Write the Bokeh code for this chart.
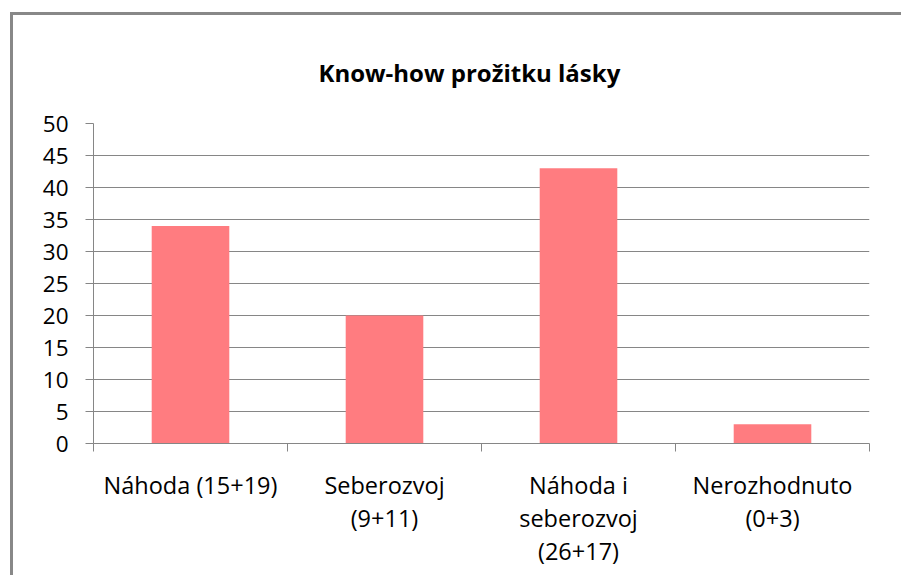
from bokeh.plotting import figure
from bokeh.models import FixedTicker, Range1d
from bokeh.layouts import column
from bokeh.embed import file_html
from bokeh.resources import INLINE

title_text = "Know-how prožitku lásky"
categories = ["Náhoda (15+19)", "Seberozvoj\n(9+11)", "Náhoda i\nseberozvoj\n(26+17)", "Nerozhodnuto\n(0+3)"]
values = [34, 20, 43, 3]
y_ticks = [0, 5, 10, 15, 20, 25, 30, 35, 40, 45, 50]

BAR = "#FF7C80"
GRID = "#868686"
FONT = "Open Sans"

W, H = 888, 560
n = len(categories)
xs = [i + 0.5 for i in range(n)]

p = figure(width=W, height=H, output_backend="svg", toolbar_location=None,
           x_range=Range1d(0, n), y_range=Range1d(0, 50),
           min_border_left=80, min_border_right=32, min_border_top=108, min_border_bottom=132,
           background_fill_color="white", border_fill_color="white")

p.vbar(x=xs, top=values, width=0.4, fill_color=BAR, line_color=None)

p.title.text = title_text
p.title.text_font = FONT
p.title.text_font_size = "24px"
p.title.text_font_style = "bold"
p.title.text_color = "black"
p.title.align = "left"
p.title.offset = 225
p.title.standoff = 69

p.outline_line_color = None
p.xgrid.grid_line_color = None
p.ygrid.grid_line_color = GRID
p.ygrid.grid_line_width = 1
p.ygrid.ticker = FixedTicker(ticks=y_ticks)

ya = p.yaxis[0]
ya.ticker = FixedTicker(ticks=y_ticks)
ya.axis_line_color = GRID
ya.major_tick_line_color = GRID
ya.major_tick_out = 8
ya.major_tick_in = 0
ya.minor_tick_line_color = None
ya.major_label_standoff = 17
ya.major_label_text_font = FONT
ya.major_label_text_font_size = "22.5px"
ya.major_label_text_color = "black"

xa = p.xaxis[0]
xa.ticker = FixedTicker(ticks=xs, minor_ticks=list(range(n + 1)))
xa.major_label_overrides = {x: c for x, c in zip(xs, categories)}
xa.axis_line_color = GRID
xa.major_tick_line_color = None
xa.major_tick_out = 8
xa.major_tick_in = 0
xa.minor_tick_line_color = GRID
xa.minor_tick_out = 8
xa.minor_tick_in = 0
xa.major_label_standoff = 17
xa.major_label_text_font = FONT
xa.major_label_text_font_size = "23.5px"
xa.major_label_text_color = "black"
xa.major_label_text_line_height = 1.04

layout = column(p, styles={"border-left": "3px solid #888888",
                           "border-top": "3px solid #888888",
                           "margin-left": "10px", "margin-top": "12px"})

open("out.html", "w").write(file_html(layout, INLINE))
